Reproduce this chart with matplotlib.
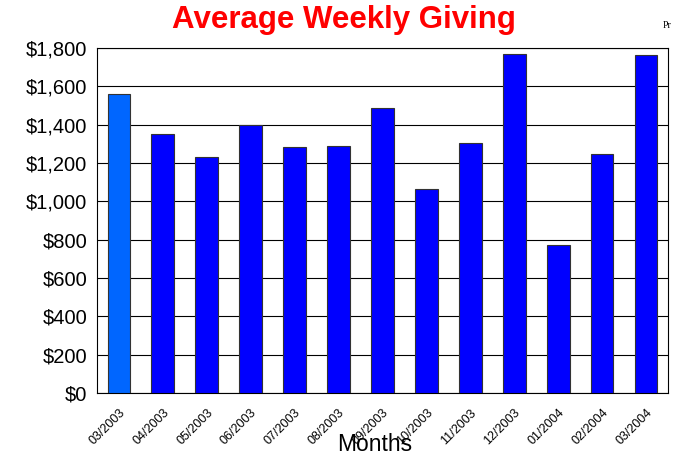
import matplotlib
matplotlib.use("Agg")
import matplotlib.pyplot as plt
from matplotlib.ticker import FuncFormatter

months = ["03/2003", "04/2003", "05/2003", "06/2003", "07/2003", "08/2003", "09/2003",
          "10/2003", "11/2003", "12/2003", "01/2004", "02/2004", "03/2004"]
giving = [1560, 1350, 1230, 1400, 1285, 1290, 1485, 1065, 1305, 1770, 770, 1245, 1765]
colors = ["#0066FF"] + ["#0000FF"] * 12

fig = plt.figure(figsize=(6.74, 4.58), dpi=100)
ax = fig.add_axes([0.1439, 0.1419, 0.8471, 0.7533])
x = list(range(len(months)))
ax.bar(x, giving, width=0.52, color=colors, edgecolor="#333333", linewidth=0.8, zorder=3)
ax.set_xlim(-0.5, len(months) - 0.5)
ax.set_ylim(0, 1800)
ax.set_yticks(range(0, 1801, 200))
ax.yaxis.set_major_formatter(FuncFormatter(lambda v, p: "${:,.0f}".format(v)))
ax.grid(axis="y", color="black", linewidth=0.8, zorder=0)
ax.tick_params(axis="y", length=0, pad=7, labelsize=14.5)
ax.tick_params(axis="x", length=0, pad=10, labelsize=9)
for lab in ax.get_yticklabels():
    lab.set_family("Liberation Sans")
ax.set_xticks(x)
ax.set_xticklabels(months, rotation=45, ha="right", rotation_mode="anchor", family="Liberation Sans")
for s in ax.spines.values():
    s.set_color("black")
    s.set_linewidth(0.8)

fig.text(0.511, 0.956, "Average Weekly Giving", color="red", fontsize=22.5, fontweight="bold",
         family="Liberation Sans", ha="center", va="center")
fig.text(0.556, 0.004, "Months", fontsize=16.5, family="Liberation Sans", ha="center", va="bottom")
fig.text(0.983, 0.945, "Pr", fontsize=7, family="Liberation Serif", ha="left", va="center")

fig.savefig("out.png", dpi=100)
